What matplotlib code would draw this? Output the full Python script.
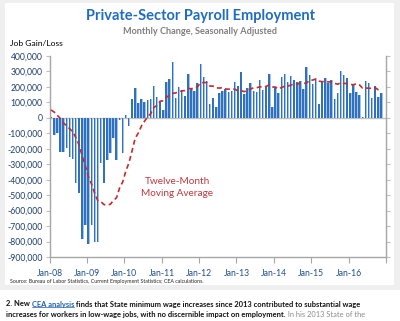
import numpy as np
import matplotlib.pyplot as plt
from matplotlib.lines import Line2D

plt.rcParams['font.family'] = ['Lato', 'DejaVu Sans']

W, H = 400, 321

# private payroll change by month, thousands of jobs, Jan-2008 .. Nov-2016
job_change = [
    8, -110, -100, -219, -219, -197, -255, -266, -424, -483, -781, -695,    # 2008
    -814, -695, -803, -803, -292, -424, -273, -225, -128, -273, -13, -225,  # 2009
    20, -52, 121, 193, 95, 123, 102, 117, 121, 208, 134, 110,               # 2010
    52, 231, 249, 359, 130, 201, 182, 143, 284, 186, 173, 225,              # 2011
    350, 262, 237, 91, 129, 71, 159, 176, 186, 164, 171, 231,               # 2012
    203, 299, 151, 193, 227, 175, 164, 242, 180, 203, 284, 71,              # 2013
    199, 160, 262, 284, 232, 268, 247, 232, 236, 188, 327, 279,             # 2014
    216, 251, 91, 240, 258, 225, 247, 123, 162, 305, 279, 260,              # 2015
    158, 219, 169, 149, 8, 240, 223, 130, 208, 136, 158,                    # 2016
]
# Feb-2007 .. Dec-2007, only needed to start the 12-month average
prior_2007 = [60, 150, 40, 110, 40, -30, -30, 50, 60, 90, 70]

year_labels = ['Jan-08', 'Jan-09', 'Jan-10', 'Jan-11', 'Jan-12',
               'Jan-13', 'Jan-14', 'Jan-15', 'Jan-16', '']
y_ticks = list(range(-900, 401, 100))

vals = np.array(job_change, dtype=float)
moving_avg = np.convolve(np.r_[prior_2007, vals], np.ones(12) / 12, mode='valid')
months = np.arange(len(vals)) + 0.5


def px(x, y):
    return x / W, 1 - y / H


fig = plt.figure(figsize=(W / 100, H / 100), dpi=100, facecolor='white')

# grey page frame round the white chart panel
fig.patches.append(plt.Rectangle((0, 1 - 290 / H), 1, 290 / H, transform=fig.transFigure,
                                 facecolor='#efefef', edgecolor='none', zorder=-3))
fig.patches.append(plt.Rectangle(px(5, 285), 389 / W, 282 / H, transform=fig.transFigure,
                                 facecolor='white', edgecolor='none', zorder=-2))

ax = fig.add_axes([49.5 / W, 1 - 257 / H, (386 - 49.5) / W, (257 - 56) / H])
ax.set_facecolor('none')

ax.axhline(0, color='#bfbfbf', lw=1.0, zorder=1)
ax.bar(months - 0.34, vals, width=0.5, align='edge', color='#2f70bf', lw=0, zorder=2)
ax.bar(months + 0.16, vals, width=0.28, align='edge', color='#a3c3ea', lw=0, zorder=2)
ax.plot(months, moving_avg, color='#c42b2b', lw=1.2, ls=(0, (3, 2)), zorder=3)

ax.text(41, -450, 'Twelve-Month\nMoving Average', color='#c0393b', fontsize=7.2,
        ha='center', va='center', linespacing=1.35)

ax.set_xlim(0, 108)
ax.set_ylim(-900, 400)
ax.set_xticks(range(0, 109, 12))
ax.set_xticklabels(year_labels)
ax.set_yticks(y_ticks)
ax.set_yticklabels([f'{v * 1000:,}' for v in y_ticks])

for side in ('left', 'right', 'bottom'):
    ax.spines[side].set_color('#a6a6a6')
    ax.spines[side].set_linewidth(1.0)
ax.spines['top'].set_visible(False)
ax.tick_params(axis='y', direction='out', length=3, color='#bfbfbf', right=True,
               labelsize=6.2, labelcolor='#1f3f6e', pad=2)
ax.tick_params(axis='x', direction='out', length=4, color='#a6a6a6',
               labelsize=6.2, labelcolor='#1f4f8f', pad=5)

fig.text(*px(200, 16), 'Private-Sector Payroll Employment', color='#1f6dc2',
         fontsize=10.5, fontweight='bold', ha='center', va='center')
fig.text(*px(200, 32), 'Monthly Change, Seasonally Adjusted', color='#7f7f7f',
         fontsize=6.6, fontweight='bold', ha='center', va='center')
fig.text(*px(10, 44), 'Job Gain/Loss', color='black', fontsize=6.1, ha='left', va='center')
fig.text(*px(10, 281), 'Source: Bureau of Labor Statistics, Current Employment Statistics; '
         'CEA calculations.', color='#262626', fontsize=3.8, ha='left', va='center')

# paragraph under the chart, written piece by piece
renderer = fig.canvas.get_renderer()
lines = [
    [('2. New ', 'bold', '#111111', False),
     ('CEA analysis', 'bold', '#1f5fae', True),
     (' finds that State minimum wage increases since 2013 contributed to substantial wage',
      'bold', '#111111', False)],
    [('increases for workers in low-wage jobs, with no discernible impact on employment.',
      'bold', '#111111', False),
     (' In his 2013 State of the', 'normal', '#8a8a8a', False)],
]
for row, y in zip(lines, (304, 314.5)):
    x = 6 / W
    for s, weight, color, underline in row:
        t = fig.text(x, 1 - y / H, s, fontsize=5.45, fontweight=weight, color=color,
                     ha='left', va='center')
        bb = t.get_window_extent(renderer).transformed(fig.transFigure.inverted())
        if underline:
            fig.lines.append(Line2D([bb.x0, bb.x1], [bb.y0 + 0.002, bb.y0 + 0.002],
                                    transform=fig.transFigure, color=color, lw=0.5))
        x = bb.x1

fig.savefig('out.png', dpi=100)
